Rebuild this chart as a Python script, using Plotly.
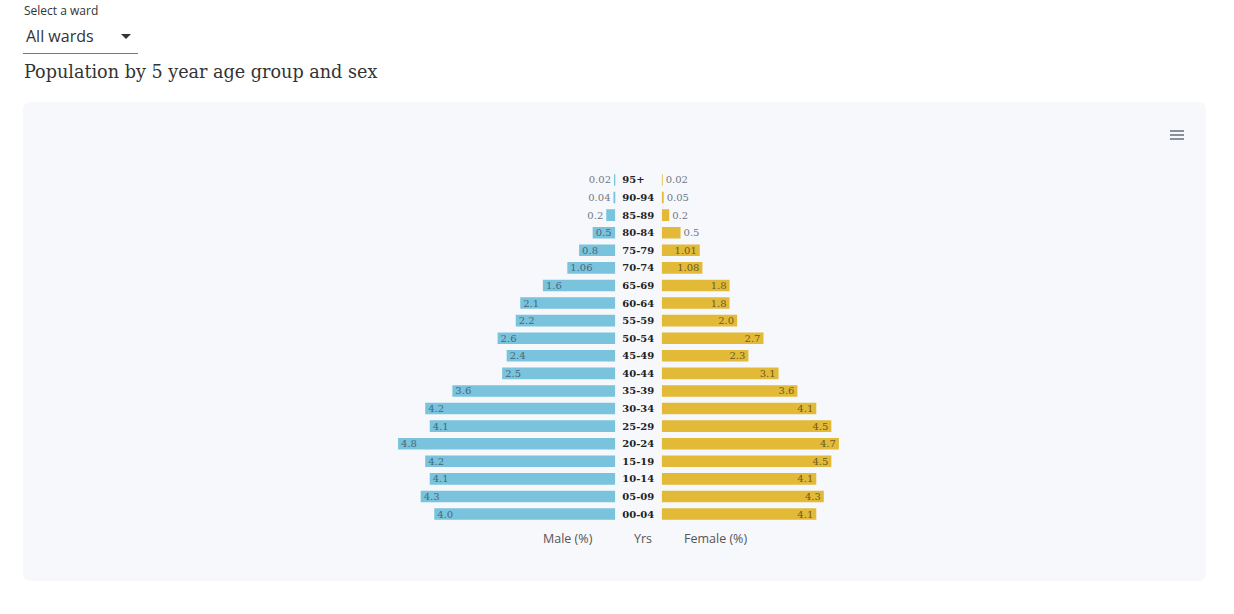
import plotly.graph_objects as go

W, H = 1234, 614

# age groups, bottom to top
age_groups = ["00-04", "05-09", "10-14", "15-19", "20-24", "25-29", "30-34",
              "35-39", "40-44", "45-49", "50-54", "55-59", "60-64", "65-69",
              "70-74", "75-79", "80-84", "85-89", "90-94", "95+"]
male_pct = [4.0, 4.3, 4.1, 4.2, 4.8, 4.1, 4.2, 3.6, 2.5, 2.4, 2.6, 2.2, 2.1,
            1.6, 1.06, 0.8, 0.5, 0.2, 0.04, 0.02]
female_pct = [4.1, 4.3, 4.1, 4.5, 4.7, 4.5, 4.1, 3.6, 3.1, 2.3, 2.7, 2.0, 1.8,
              1.8, 1.08, 1.01, 0.5, 0.2, 0.05, 0.02]


def px(x):
    # window pixel -> paper fraction
    return x / W


def py(y):
    return 1 - y / H


SERIF = "DejaVu Serif"
SANS = "Open Sans"
MALE = "#79c4dc"
FEMALE = "#e2ba38"

fig = go.Figure()

fig.add_trace(
    go.Bar(
        y=age_groups,
        x=male_pct,
        orientation="h",
        name="Male",
        marker=dict(color=MALE, line=dict(width=0)),
        text=[str(v) for v in male_pct],
        textposition=["inside" if v >= 0.5 else "outside" for v in male_pct],
        insidetextanchor="end",
        constraintext="none",
        textfont=dict(family=SERIF, size=10, color="#46677c"),
        outsidetextfont=dict(family=SERIF, size=10, color="#6f7782"),
        cliponaxis=False,
        width=0.66,
        xaxis="x",
        yaxis="y",
        hoverinfo="skip",
    )
)
fig.add_trace(
    go.Bar(
        y=age_groups,
        x=female_pct,
        orientation="h",
        name="Female",
        marker=dict(color=FEMALE, line=dict(width=0)),
        text=[str(v) for v in female_pct],
        textposition=["inside" if v >= 0.8 else "outside" for v in female_pct],
        insidetextanchor="end",
        constraintext="none",
        textfont=dict(family=SERIF, size=10, color="#6b5b22"),
        outsidetextfont=dict(family=SERIF, size=10, color="#6f7782"),
        cliponaxis=False,
        width=0.66,
        xaxis="x2",
        yaxis="y",
        hoverinfo="skip",
    )
)

# card background (rounded rectangle)
x0, x1, y0, y1 = px(23), px(1206), py(581), py(102)
rx, ry = 8 / W, 8 / H
card = (f"M {x0+rx},{y0} L {x1-rx},{y0} Q {x1},{y0} {x1},{y0+ry} "
        f"L {x1},{y1-ry} Q {x1},{y1} {x1-rx},{y1} L {x0+rx},{y1} "
        f"Q {x0},{y1} {x0},{y1-ry} L {x0},{y0+ry} Q {x0},{y0} {x0+rx},{y0} Z")

shapes = [
    dict(type="path", path=card, xref="paper", yref="paper",
         fillcolor="#f7f8fc", line=dict(width=0), layer="below"),
    # dropdown underline and caret
    dict(type="line", xref="paper", yref="paper", x0=px(23), x1=px(138),
         y0=py(53.5), y1=py(53.5), line=dict(color="#777", width=1)),
    dict(type="path", xref="paper", yref="paper",
         path=f"M {px(121)},{py(34)} L {px(131)},{py(34)} L {px(126)},{py(39)} Z",
         fillcolor="#333", line=dict(width=0)),
]
# hamburger menu icon
for yy in (131, 135, 139):
    shapes.append(dict(type="line", xref="paper", yref="paper",
                       x0=px(1170), x1=px(1184), y0=py(yy), y1=py(yy),
                       line=dict(color="#6e7681", width=1.6)))

annotations = [
    dict(text="Select a ward", x=px(22), y=py(10), xanchor="left", yanchor="middle",
         font=dict(family=SANS, size=12, color="#333")),
    dict(text="All wards", x=px(24), y=py(36), xanchor="left", yanchor="middle",
         font=dict(family=SANS, size=16, color="#333")),
    dict(text="Population by 5 year age group and sex", x=px(22), y=py(72),
         xanchor="left", yanchor="middle",
         font=dict(family=SERIF, size=17.6, color="#333")),
    dict(text="Male (%)", x=px(568), y=py(538), xanchor="center", yanchor="middle",
         font=dict(family=SANS, size=12.5, color="#555")),
    dict(text="Yrs", x=px(643), y=py(538), xanchor="center", yanchor="middle",
         font=dict(family=SANS, size=12.5, color="#555")),
    dict(text="Female (%)", x=px(715), y=py(538), xanchor="center", yanchor="middle",
         font=dict(family=SANS, size=12.5, color="#555")),
]
for a in annotations:
    a.update(xref="paper", yref="paper", showarrow=False)

fig.update_layout(
    width=W,
    height=H,
    margin=dict(l=0, r=0, t=0, b=0),
    paper_bgcolor="white",
    plot_bgcolor="rgba(0,0,0,0)",
    showlegend=False,
    shapes=shapes,
    annotations=annotations,
    xaxis=dict(domain=[px(389), px(615.3)], range=[5, 0], visible=False,
               fixedrange=True),
    xaxis2=dict(domain=[px(661.7), px(850.2)], range=[0, 5], visible=False,
                anchor="y", fixedrange=True),
    yaxis=dict(domain=[py(522.8), py(171.2)], anchor="x", side="right",
               type="category", categoryorder="array", categoryarray=age_groups,
               range=[-0.5, 19.5], showgrid=False, zeroline=False, showline=False,
               ticks="", ticklabelstandoff=6,
               tickfont=dict(family=SERIF, size=10, color="#222", weight="bold"),
               fixedrange=True),
)

# drop the default body margin so the figure sits at the window's corner
fig.write_html(
    "out.html",
    config={"displayModeBar": False},
    post_script="document.body.style.margin='0';document.body.style.overflow='hidden';",
)
